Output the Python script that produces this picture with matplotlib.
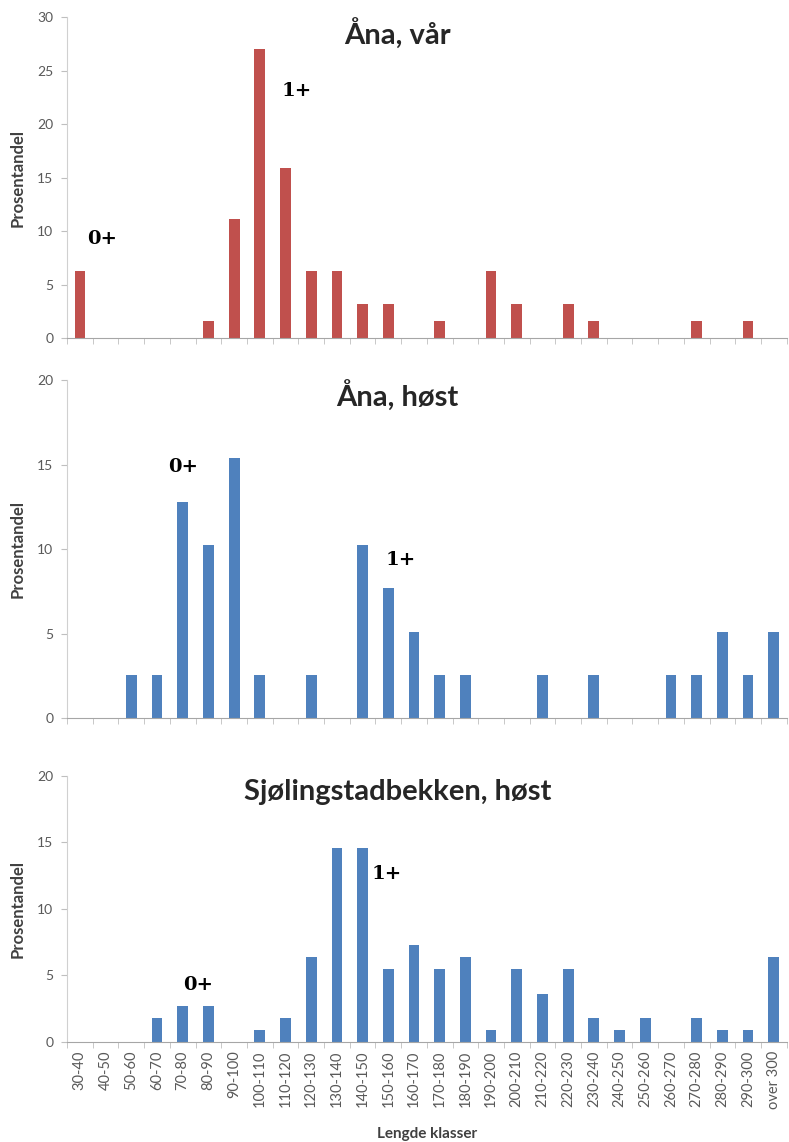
import numpy as np
import matplotlib.pyplot as plt

# length classes (mm)
klasser = ['30-40', '40-50', '50-60', '60-70', '70-80', '80-90', '90-100',
           '100-110', '110-120', '120-130', '130-140', '140-150', '150-160',
           '160-170', '170-180', '180-190', '190-200', '200-210', '210-220',
           '220-230', '230-240', '240-250', '250-260', '260-270', '270-280',
           '280-290', '290-300', 'over 300']

# percent per class
ana_var = [6.3, 0, 0, 0, 0, 1.6, 11.1, 27.0, 15.9, 6.3, 6.3, 3.2, 3.2, 0,
           1.6, 0, 6.3, 3.2, 0, 3.2, 1.6, 0, 0, 0, 1.6, 0, 1.6, 0]
ana_host = [0, 0, 2.56, 2.56, 12.82, 10.26, 15.38, 2.56, 0, 2.56, 0, 10.26,
            7.69, 5.13, 2.56, 2.56, 0, 0, 2.56, 0, 2.56, 0, 0, 2.56, 2.56,
            5.13, 2.56, 5.13]
sjol_host = [0, 0, 0, 1.82, 2.73, 2.73, 0, 0.91, 1.82, 6.36, 14.55, 14.55,
             5.45, 7.27, 5.45, 6.36, 0.91, 5.45, 3.64, 5.45, 1.82, 0.91, 1.82,
             0, 1.82, 0.91, 0.91, 6.36]

titler = ['Åna, vår', 'Åna, høst', 'Sjølingstadbekken, høst']
ymax = [30, 20, 20]
farger = ['#C0504D', '#4F81BD', '#4F81BD']
# (x, y) of the age labels in data units
alder = [[('0+', 0.3, 9.3), ('1+', 7.85, 23.1)],
         [('0+', 3.45, 14.85), ('1+', 11.9, 9.35)],
         [('0+', 4.0, 4.3), ('1+', 11.35, 12.6)]]

plt.rcParams['font.family'] = ['Lato', 'DejaVu Sans']
grey = '#595959'

fig = plt.figure(figsize=(7.89, 11.42), dpi=100)
rects = [[0.085, 0.704, 0.912, 0.281],
         [0.085, 0.371, 0.912, 0.296],
         [0.085, 0.0876, 0.912, 0.233]]
title_y = [0.970, 0.653, 0.3065]

x = np.arange(len(klasser))
for i, data in enumerate([ana_var, ana_host, sjol_host]):
    ax = fig.add_axes(rects[i])
    ax.bar(x, data, width=0.42, color=farger[i])
    ax.set_xlim(-0.5, len(klasser) - 0.5)
    ax.set_ylim(0, ymax[i])
    ax.set_yticks(np.arange(0, ymax[i] + 1, 5))
    for s in ['top', 'right']:
        ax.spines[s].set_visible(False)
    ax.spines['left'].set_color('#D0D0D0')
    ax.spines['bottom'].set_color('#A6A6A6')
    ax.tick_params(axis='y', colors=grey, labelsize=10, length=4, color='#BFBFBF', pad=6)
    ax.set_xticks(x)
    ax.set_xticks(np.arange(len(klasser) + 1) - 0.5, minor=True)
    ax.tick_params(axis='x', which='major', length=0, pad=6)
    ax.tick_params(axis='x', which='minor', length=4, color='#BFBFBF')
    if i == 2:
        ax.set_xticklabels(klasser, rotation=90, fontsize=10.5, color=grey)
        ax.set_xlabel('Lengde klasser', fontsize=11, fontweight='bold',
                      color='#404040', labelpad=13)
    else:
        ax.set_xticklabels([])
    ax.set_ylabel('Prosentandel', fontsize=12, fontweight='bold', color='#404040')
    ax.yaxis.set_label_coords(-0.058, 0.5)
    for txt, tx, ty in alder[i]:
        ax.text(tx, ty, txt, fontsize=14, family='DejaVu Serif', fontweight='bold',
                va='center', ha='left', color='black')
    fig.text(0.504, title_y[i], titler[i], fontsize=21, fontweight='bold',
             ha='center', va='center', color='#262626')

fig.savefig('out.png', dpi=100)
